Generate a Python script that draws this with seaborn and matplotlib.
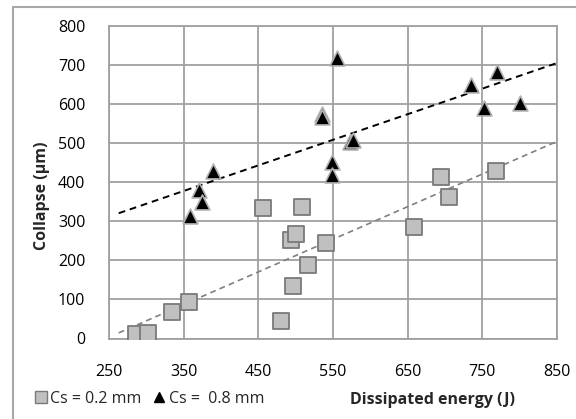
import numpy as np
import pandas as pd
import matplotlib
matplotlib.use("Agg")
import matplotlib.pyplot as plt
from matplotlib.patches import Rectangle
from matplotlib.lines import Line2D
import seaborn as sns

# ---- data ----
energy_02 = [286, 302, 334, 357, 456, 480, 494, 496, 500, 509, 516, 540, 659, 695, 706, 768]
collapse_02 = [12, 14, 68, 93, 333, 44, 253, 135, 266, 336, 187, 243, 286, 412, 362, 428]
energy_08 = [358, 371, 374, 389, 535, 535, 548, 548, 556, 573, 577, 735, 752, 770, 800]
collapse_08 = [314, 379, 350, 428, 574, 567, 452, 417, 716, 502, 508, 649, 590, 681, 603]
series_labels = ["Cs = 0.2 mm", "Cs =  0.8 mm"]
x_ticks = [250, 350, 450, 550, 650, 750, 850]
y_ticks = [0, 100, 200, 300, 400, 500, 600, 700, 800]
x_title = "Dissipated energy (J)"
y_title = "Collapse (\u00b5m)"

df = pd.concat([
    pd.DataFrame({"energy": energy_02, "collapse": collapse_02, "series": series_labels[0]}),
    pd.DataFrame({"energy": energy_08, "collapse": collapse_08, "series": series_labels[1]}),
], ignore_index=True)

sns.set_style("white")
plt.rcParams["font.family"] = ["Open Sans", "DejaVu Sans"]

fig = plt.figure(figsize=(5.76, 4.19), dpi=100)
ax = fig.add_axes([109 / 576, 1 - 338.5 / 419, (557 - 109) / 576, (338.5 - 25.5) / 419])

grid_col = "#a0a0a0"
ax.set_axisbelow(True)
ax.grid(True, color=grid_col, linewidth=1.3)
for s in ax.spines.values():
    s.set_color(grid_col)
    s.set_linewidth(1.3)

# trend lines (least-squares fits, extended over the axis range)
for xs, ys, col, lw in [(energy_08, collapse_08, "black", 1.4), (energy_02, collapse_02, "#808080", 1.2)]:
    k, b = np.polyfit(xs, ys, 1)
    xx = np.array([263, 850])
    ax.plot(xx, k * xx + b, color=col, linestyle=(0, (3.5, 2.5)), linewidth=lw, zorder=2)

sub = df[df.series == series_labels[0]]
sns.scatterplot(data=sub, x="energy", y="collapse", marker="s", s=120,
                color="#c0c0c0", edgecolor="#7a7a7a", linewidth=1.3, ax=ax, zorder=3, legend=False)
sub = df[df.series == series_labels[1]]
sns.scatterplot(data=sub, x="energy", y="collapse", marker="^", s=115,
                color="black", edgecolor="#b0b0b0", linewidth=1.2, ax=ax, zorder=4, legend=False)

ax.set_xlim(250, 850)
ax.set_ylim(0, 800)
ax.set_xticks(x_ticks)
ax.set_yticks(y_ticks)
ax.tick_params(axis="x", length=0, pad=18, labelsize=11.5, colors="black")
ax.tick_params(axis="y", length=0, pad=17, labelsize=11.5, colors="black")
ax.set_xlabel("")
ax.set_ylabel("")

fig.text(42 / 576, 1 - 196 / 419, y_title, rotation=90, ha="center", va="center",
         fontsize=11.5, fontweight="bold")
fig.text(433 / 576, 1 - 400 / 419, x_title, ha="center", va="center",
         fontsize=11.5, fontweight="bold")

handles = [
    Line2D([], [], marker="s", linestyle="none", markersize=8, markerfacecolor="#c0c0c0",
           markeredgecolor="#7a7a7a", markeredgewidth=1.0),
    Line2D([], [], marker="^", linestyle="none", markersize=7, markerfacecolor="black",
           markeredgecolor="black"),
]
fig.legend(handles, series_labels, loc="center left", bbox_to_anchor=(31 / 576, 1 - 399 / 419),
           ncol=2, frameon=False, fontsize=11.5, handletextpad=0.0, columnspacing=0.5,
           handlelength=1.2, borderpad=0, borderaxespad=0)

fig.patches.append(Rectangle((13 / 576, -0.1), 1.2, 1 - 7 / 419 + 0.1, transform=fig.transFigure,
                             fill=False, edgecolor="#a8a8a8", linewidth=1.5))

fig.savefig("out.png", dpi=100)
